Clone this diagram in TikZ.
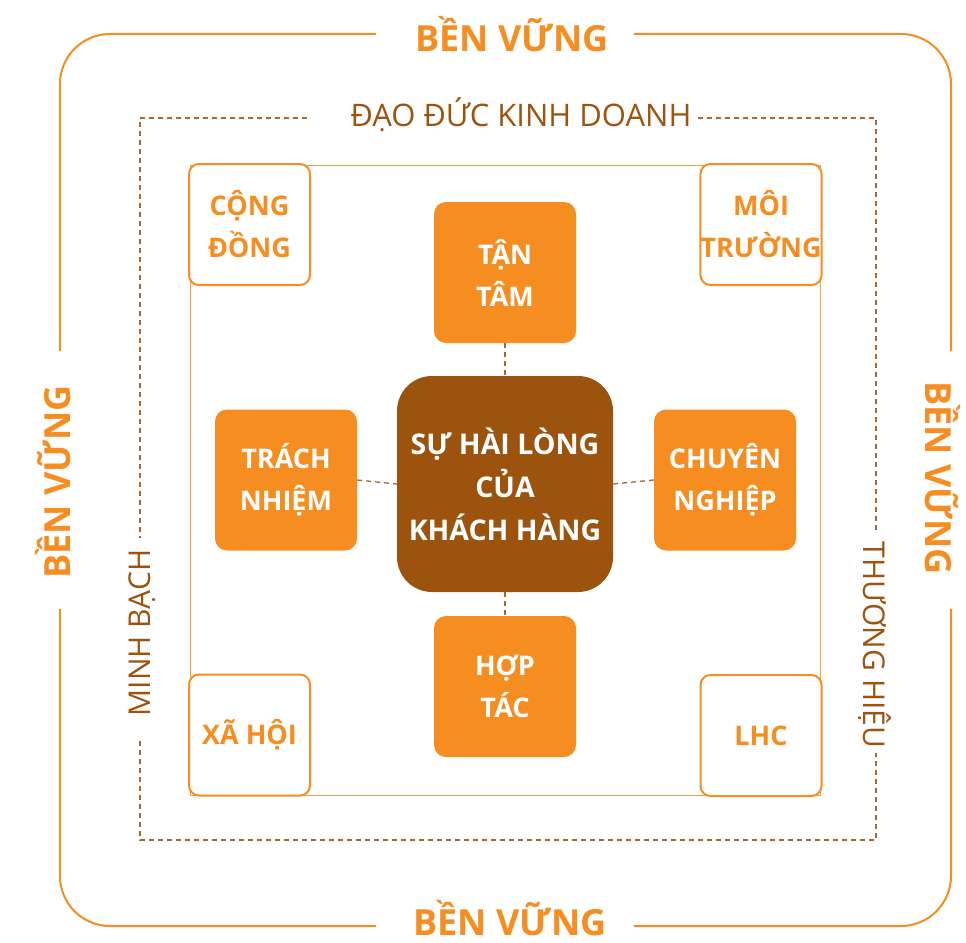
\documentclass[tikz,border=0pt]{standalone}
\usepackage{fontspec}
\setmainfont{Open Sans}
\definecolor{org}{HTML}{F58D21}
\definecolor{brn}{HTML}{9C530E}
\definecolor{dsh}{HTML}{A8672F}
\begin{document}
\begin{tikzpicture}[x=1pt,y=-1pt,
  frame/.style={draw=org,line width=2pt,rounded corners=50pt},
  dframe/.style={draw=dsh,line width=1.3pt,dash pattern=on 5pt off 4pt},
  corner/.style={draw=org,line width=2pt,fill=white,rounded corners=10pt,minimum width=121pt,minimum height=121pt,inner sep=0pt,align=center,text=org,font=\fontsize{27}{42}\selectfont\bfseries},
  obox/.style={fill=org,rounded corners=12pt,minimum width=142pt,minimum height=141pt,inner sep=0pt,align=center,text=white,font=\fontsize{27}{42}\selectfont\bfseries},
  cbox/.style={fill=brn,rounded corners=35pt,minimum width=216pt,minimum height=216pt,inner sep=0pt,align=center,text=white,font=\fontsize{28.5}{43}\selectfont\bfseries},
  big/.style={text=org,inner sep=0pt,font=\fontsize{36}{40}\selectfont\bfseries},
  mid/.style={text=brn,inner sep=0pt,font=\fontsize{30}{34}\selectfont},
  con/.style={draw=dsh,line width=1.3pt,dash pattern=on 5pt off 4pt}]
\useasboundingbox (0,0) rectangle (966,942);
% outer frame
\draw[frame] (376,34) -- (60,34) -- (60,351);
\draw[frame] (60,609) -- (60,926) -- (376,926);
\draw[frame] (634,926) -- (951,926) -- (951,609);
\draw[frame] (951,351) -- (951,34) -- (634,34);
% dashed frame
\draw[dframe] (307,118) -- (140,118) -- (140,538);
\draw[dframe] (140,741) -- (140,840) -- (876,840) -- (876,753);
\draw[dframe] (876,530) -- (876,118) -- (698,118);
% inner rectangle
\draw[org!85,line width=1pt] (190,165) rectangle (820,795);
% labels of frames
\node[big,anchor=base] (tTop) at (512,52) {BỀN VỮNG};
\node[big,anchor=base] (tBot) at (510,935) {BỀN VỮNG};
\node[big,anchor=base,rotate=90] (tLeft) at (70,482) {BỀN VỮNG};
\node[big,anchor=base,rotate=-90] (tRight) at (925,478) {BỀN VỮNG};
\node[mid,anchor=base,font=\fontsize{31}{34}\selectfont] (tDao) at (521,126) {ĐẠO ĐỨC KINH DOANH};
\node[mid,anchor=base,rotate=90] (tMinh) at (150,633) {MINH BẠCH};
\node[mid,anchor=base,rotate=-90] (tThuong) at (863,645) {THƯƠNG HIỆU};
% corner boxes
\node[corner] (cong) at (249.5,224.5) {CỘNG\\ĐỒNG};
\node[corner] (moi) at (761,224.5) {MÔI\\TRƯỜNG};
\node[corner] (xa) at (249.5,735) {XÃ HỘI};
\node[corner] (lhc) at (761,735.5) {LHC};
% orange boxes
\node[obox] (tan) at (505,272.5) {TẬN\\TÂM};
\node[obox] (trach) at (286,480) {TRÁCH\\NHIỆM};
\node[obox] (chuyen) at (725,480) {CHUYÊN\\NGHIỆP};
\node[obox] (hop) at (505,686.5) {HỢP\\TÁC};
% center
\node[cbox] (ctr) at (505,484) {SỰ HÀI LÒNG\\CỦA\\KHÁCH HÀNG};
% connectors
\draw[con] (tan.south) -- (ctr.north);
\draw[con] (trach.east) -- (ctr.west);
\draw[con] (ctr.east) -- (chuyen.west);
\draw[con] (ctr.south) -- (hop.north);
\end{tikzpicture}
\end{document}
